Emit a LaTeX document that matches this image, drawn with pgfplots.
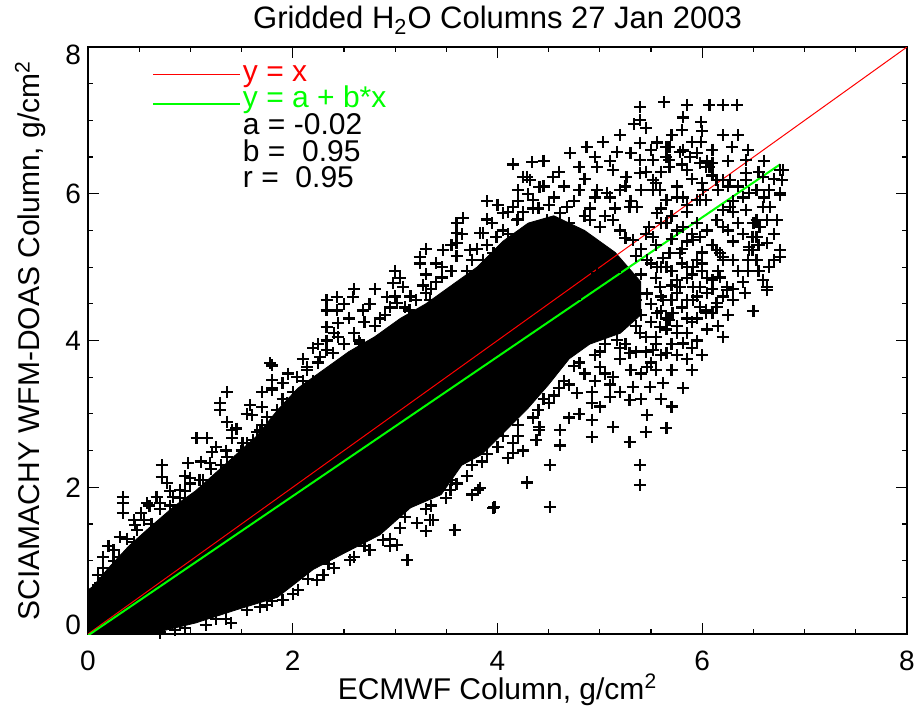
\documentclass[border=0pt]{standalone}
\usepackage{fontspec}
\setmainfont{Liberation Sans}
\usepackage{pgfplots}
\pgfplotsset{compat=1.18}
\definecolor{idlred}{RGB}{255,0,0}
\definecolor{idlgreen}{RGB}{0,255,0}

\begin{document}
\begin{tikzpicture}
\begin{axis}[
    scale only axis,
    width=409.5pt, height=293.5pt,
    xmin=0, xmax=8, ymin=0, ymax=8,
    xtick={0,2,4,6,8}, ytick={0,2,4,6,8},
    minor x tick num=3, minor y tick num=3,
    major tick length=5.5pt, minor tick length=2.5pt,
    tick style={black, line width=0.6pt},
    axis line style={line width=0.65pt},
    tick label style={font=\fontsize{14}{16}\selectfont},
    /pgf/number format/assume math mode=true,
    xticklabel style={yshift=-5pt},
    yticklabels={{\raisebox{4.5pt}[\height][\depth]{0}},2,4,6,{\raisebox{-4pt}[\height][\depth]{8}}},
]

% dense core of the cloud
\addplot[fill=black, draw=black] coordinates {
(0,0)(0.6,0)(1.05,0.15)(1.45,0.33)(1.85,0.5)(2.2,0.88)(2.5,1.1)(2.85,1.35)
(3.15,1.72)(3.45,1.9)(3.65,2.3)(3.85,2.45)(4.1,2.8)(4.3,3.08)(4.5,3.4)
(4.7,3.75)(4.9,3.95)(5.2,4.1)(5.4,4.35)(5.4,4.8)(5.15,5.2)(4.85,5.5)
(4.55,5.7)(4.3,5.6)(4.05,5.35)(3.8,5.0)(3.55,4.75)(3.3,4.5)
(3.05,4.3)(2.8,4.05)(2.55,3.85)(2.3,3.6)(2.05,3.35)(1.85,3.05)(1.65,2.7)
(1.45,2.45)(1.25,2.2)(1.05,1.95)(0.85,1.75)(0.6,1.45)(0.4,1.2)(0.2,0.9)
(0.05,0.65)(0,0.6)} --cycle;

% individual grid boxes
\addplot[only marks, mark=+, mark size=3pt, mark options={line width=1.1pt}, black] coordinates {
(6.76,6.32)(6.76,6.01)(6.59,5.82)(6.63,5.64)(6.53,5.64)(6.56,5.55)(6.73,5.64)
(6.49,5.41)(6.63,5.33)(6.76,5.23)(6.76,5.14)(6.46,5.23)(6.53,5.1)(6.59,4.82)
(6.63,4.73)(6.43,5.78)(6.46,6.01)(6.43,6.28)(6.2,6.19)(6.2,5.78)(6.2,5.55)
(6.14,5.23)(6.2,5.1)(6.17,4.86)(6.24,4.73)(6.04,4.41)(6.14,4.51)(5.85,4.1)
(5.98,4.73)(5.95,5.1)(5.91,5.37)(6.07,6.36)(6.04,5.91)(5.85,6.32)(5.98,5.91)
(5.63,7.25)(5.85,7.21)(6.07,7.21)(6.2,7.21)(6.34,7.21)(5.81,7.04)(5.99,6.98)
(5.8,6.87)(5.99,6.7)(6.29,6.64)(5.56,6.7)(5.68,6.64)(5.81,6.59)(6.43,6.46)
(5.88,6.5)(6.04,6.36)(6.14,6.19)(6.43,6.19)(6.79,6.32)(6.78,6.19)(6.76,5.98)
(6.53,6.05)(6.01,6.05)(5.81,5.95)(5.59,6.05)(5.52,6.19)(5.68,6.36)(6.27,5.82)
(6.14,5.64)(6.53,5.64)(6.76,5.23)(6.73,5.64)(6.49,5.23)(6.59,4.82)(6.63,4.69)
(6.2,5.14)(6.24,4.69)(6.14,4.46)(6.04,4.37)(5.91,4.73)(5.75,4.82)(5.62,4.55)
(5.56,5.0)(5.78,5.19)(5.98,5.41)(5.65,5.6)(5.81,5.55)(5.56,5.74)(5.91,5.0)
(5.68,4.28)
(5.39,7.18)(5.39,7.0)(5.39,6.69)(5.39,6.46)(5.03,6.7)(5.17,6.57)(4.87,6.64)
(4.71,6.55)(4.34,6.43)(5.56,6.69)(5.65,6.64)(5.78,6.57)(4.25,6.23)(4.54,6.23)
(4.41,6.09)(4.05,5.74)(4.15,5.82)(3.86,5.46)(4.8,6.36)(4.97,6.36)(5.13,6.32)
(5.26,6.23)(5.39,6.28)(5.52,6.46)(5.68,6.46)(5.98,6.42)(6.1,6.42)(6.27,6.19)
(6.59,6.23)(6.66,5.82)(6.53,5.41)(6.46,5.27)(6.17,5.19)(6.1,4.82)(5.98,4.46)
(5.78,4.73)(5.65,5.0)(5.95,5.91)(5.65,5.91)(5.52,6.05)(5.29,5.82)(5.13,5.64)
(5.07,6.01)(4.8,6.05)(4.68,5.82)(4.9,5.64)(5.32,5.37)(5.52,5.41)(5.46,5.1)
(5.68,5.19)(5.85,5.0)(5.91,4.55)(6.1,4.37)(5.59,4.73)(5.71,4.37)
(5.85,4.1)(5.81,3.96)(5.81,3.35)(5.65,2.81)(5.46,2.98)(5.29,3.19)(5.29,2.62)
(5.39,2.3)(5.39,2.03)(5.13,2.82)(5.1,3.23)(4.92,3.3)(4.92,3.15)(4.92,2.92)
(4.92,2.68)(4.78,3.28)(4.61,2.78)(4.61,2.57)(4.41,2.82)(4.38,2.64)(4.51,2.3)
(4.29,2.06)(4.51,1.73)(4.15,2.47)(3.81,1.96)(3.96,1.72)(3.58,1.42)(3.37,1.55)
(5.62,3.42)(5.49,3.37)(5.32,3.37)(5.65,3.83)(5.46,3.64)(5.52,3.87)(5.29,3.83)
(5.13,3.5)(5.0,3.64)(5.17,4.01)(5.39,4.1)(5.59,4.18)
(3.12,1.01)(3.02,1.21)(3.34,1.55)(3.54,1.96)(3.83,1.99)(3.97,1.73)(4.29,2.07)
(4.15,2.6)(4.41,2.78)(3.21,1.51)(2.88,1.28)(2.56,1.01)(2.24,0.74)(1.9,0.46)
(1.68,0.37)
(0.34,1.87)(0.34,1.78)(0.34,1.65)(0.52,1.65)(0.25,1.14)(0.46,1.49)(0.72,2.3)
(0.72,2.14)(0.77,2.06)(0.98,2.33)(1.06,2.67)(1.16,2.67)(1.29,3.15)(1.29,3.05)
(1.36,3.3)(1.36,2.89)(1.41,2.78)(1.41,2.67)(1.58,3.12)(1.6,2.98)(1.7,3.09)
(1.8,3.66)(1.8,3.46)(1.8,3.35)(1.21,2.48)(1.36,2.41)(1.19,2.33)(1.0,2.13)
(0.9,1.96)(0.67,1.87)(0.58,1.78)(0.31,1.32)(0.12,0.69)(0.05,0.6)(0.48,1.42)
(0.7,1.78)(0.83,1.87)(1.09,2.1)(1.36,2.23)(1.51,2.6)(1.61,2.64)(1.68,2.78)
(1.75,2.96)(1.94,3.15)(2.04,3.5)(2.14,3.6)(2.27,3.77)(2.39,3.83)(1.9,3.42)
(1.78,3.69)(1.8,3.32)(2.14,3.64)(2.33,4.55)(2.33,4.41)(2.43,4.59)(2.43,4.41)
(2.33,4.18)(2.33,4.0)(2.33,3.87)(2.44,4.24)(2.44,4.05)(2.59,4.59)(2.69,4.41)
(2.66,3.96)(2.53,3.73)(2.92,4.59)(2.98,4.78)(3.08,4.73)(3.27,4.75)(3.24,5.14)
(3.24,5.05)(3.02,4.51)(3.14,4.41)(3.46,5.0)(3.46,4.86)(3.6,5.46)(3.6,5.33)
(3.66,5.67)(3.83,5.46)(3.73,5.23)(3.86,5.1)(4.19,5.64)(4.29,6.23)(3.34,4.55)
(3.51,4.59)(3.8,4.92)(3.99,5.41)(4.12,5.23)(3.47,5.23)
(3.96,5.19)(4.09,5.0)(4.32,6.19)(4.35,5.91)(4.48,5.64)(4.61,5.74)(4.64,5.37)
(4.8,5.41)(4.97,5.27)(5.07,5.19)(4.41,5.27)(4.22,5.19)(4.97,4.92)(5.2,5.0)
(5.29,4.73)(5.46,4.64)(5.56,4.37)(5.13,4.46)(4.8,4.64)(4.64,4.82)(4.48,4.92)
(5.36,5.82)(5.2,6.05)(4.97,6.05)
(5.0,4.3)(5.1,4.15)(5.25,4.3)(5.4,4.35)(5.05,3.95)(4.95,3.8)(5.2,3.75)(5.3,3.6)
(4.85,3.55)(4.9,4.45)(5.05,4.6)(4.75,4.1)(5.35,4.55)(5.5,4.5)(5.6,4.6)(5.7,4.55)
(5.75,4.1)(5.9,4.25)(5.55,3.95)(5.45,4.05)(5.65,4.3)(5.5,3.7)(4.7,3.4)(4.95,3.45)
(5.1,3.4)
(3.6,2.05)(3.75,2.3)(3.9,2.45)(4.05,2.7)(4.2,2.85)(4.4,3.05)(4.55,3.25)(3.35,1.75)
(3.05,1.45)(2.75,1.15)(2.4,0.9)(2.05,0.6)(1.75,0.4)(1.35,0.2)(1.15,0.12)(0.85,0.05)
(4.5,3.15)(4.65,3.45)(4.75,3.65)
(0.15,0.9)(0.3,1.05)(0.45,1.25)(0.62,1.5)(0.8,1.75)(0.95,1.95)(1.12,2.1)(1.3,2.3)
(1.5,2.5)(1.65,2.75)(1.85,3.05)(2.0,3.3)(2.2,3.45)(2.45,3.65)(2.7,3.9)(2.95,4.1)
(3.2,4.3)(3.45,4.5)(3.7,4.75)(3.95,5.0)(4.15,5.3)(4.45,5.2)(4.65,5.05)
(5.55,4.85)(5.62,5.12)(5.7,5.38)(5.48,5.55)(5.6,5.8)(5.75,6.1)(5.45,6.3)(5.3,6.55)
(5.2,6.8)(5.33,6.95)(5.45,6.9)(5.1,6.45)(4.95,6.5)(4.85,6.2)(4.65,6.1)(4.55,5.95)
(4.75,5.9)(4.9,5.8)(5.05,5.7)(5.2,5.5)(5.4,5.25)(5.55,5.3)(5.85,5.75)(5.95,5.6)
(6.05,5.5)(6.1,5.3)(6.0,5.2)(5.85,5.35)(5.7,4.95)(5.85,4.85)(6.0,4.95)(6.05,4.65)
(5.95,4.3)(5.8,4.45)(5.75,4.65)(5.6,4.4)(5.55,4.05)(5.7,3.95)(5.95,4.0)(6.05,4.15)
(6.25,4.35)(6.3,4.55)(6.35,4.95)(6.3,5.35)(6.35,5.6)(6.3,5.9)(6.35,6.1)(6.55,6.3)
(6.65,6.05)(6.7,5.45)(6.65,5.0)(6.45,4.95)(6.42,4.65)(6.5,4.4)(6.1,6.6)(6.2,6.8)
(6.0,6.85)(5.9,6.7)(5.7,6.8)(5.5,6.6)(5.6,6.3)(5.9,6.2)(6.25,6.45)(6.15,6.05)
(6.0,6.15)(5.25,6.1)(5.1,5.95)(4.95,5.95)(4.6,6.3)(4.45,6.45)(4.3,6.0)(4.2,5.9)
(4.4,5.8)
(5.05,3.55)(5.2,3.3)(5.4,3.55)(5.55,3.6)(5.7,3.6)(5.85,3.75)(5.4,3.2)(5.0,3.1)
(4.8,3.0)(4.7,2.95)(5.45,2.75)(5.7,3.1)(5.9,3.6)(5.6,3.2)
(0.1,0.8)(0.25,1.0)(0.38,1.3)(0.55,1.55)(0.7,1.7)(0.9,1.85)(1.0,2.05)(1.2,2.25)
(1.35,2.5)(1.55,2.6)(1.7,2.85)(1.9,3.2)(2.1,3.45)(2.25,3.7)(2.5,3.95)(2.6,4.1)
(2.8,4.2)(2.9,4.35)(3.1,4.45)(3.3,4.65)(3.4,4.8)(3.55,4.95)(3.75,5.1)(3.9,5.3)
(4.05,5.5)(4.2,5.65)(2.2,3.9)(2.7,4.25)(3.0,4.6)(3.2,4.55)(3.6,5.15)(3.95,5.6)
(4.1,5.75)
(0.7,0.02)(0.95,0.08)(1.25,0.2)(1.55,0.33)(1.8,0.45)(2.0,0.55)(2.15,0.75)(2.35,0.95)
(2.6,1.05)(2.7,1.2)(2.95,1.3)(3.1,1.6)(3.3,1.7)(3.5,1.85)(3.55,2.1)(3.7,2.15)
(3.85,2.35)(4.0,2.55)(4.2,2.7)(4.35,2.95)(4.45,3.2)(4.6,3.35)(4.8,3.7)(5.0,3.85)
(5.25,3.95)(1.4,0.15)(2.3,0.8)(2.95,1.2)(3.3,1.4)(3.75,1.9)(4.1,2.4)(4.25,2.5)
(5.25,4.75)(5.4,4.9)(5.5,5.05)(5.35,5.15)(5.25,5.4)(5.45,5.45)(5.6,5.6)(5.75,5.5)
(5.7,5.7)(5.85,5.85)(5.75,5.95)(5.55,6.15)(5.4,6.05)(5.3,5.9)(5.15,5.8)(5.0,5.55)
(4.85,5.7)(4.7,5.6)(5.65,6.5)(5.8,6.4)(5.95,6.55)(6.1,6.25)(6.25,6.1)(6.4,5.95)
(6.3,5.75)(6.25,5.5)(6.4,5.45)(6.5,5.6)(6.6,5.95)(6.7,6.2)(6.6,6.45)(6.45,6.6)
(6.35,6.8)(6.05,6.45)(5.9,5.45)(5.8,5.25)(6.0,5.05)(6.15,4.95)(6.3,5.1)(6.45,5.1)
(6.55,5.3)(6.7,5.1)(6.55,4.95)(6.4,4.8)(6.3,4.7)(6.2,4.6)(6.1,4.7)(5.95,4.6)
(5.85,4.55)(5.7,4.75)(5.6,5.0)(5.8,5.05)(5.9,4.9)(6.05,4.85)(5.85,4.3)(5.75,4.2)
(5.65,4.15)(5.5,4.25)(5.35,4.2)(5.45,3.85)(5.6,3.8)(5.75,3.8)(5.9,3.9)(6.0,3.8)
(6.15,4.2)(6.2,4.05)(5.35,3.85)(5.2,3.9)
(2.1,3.75)(2.25,3.95)(2.4,4.1)(2.55,4.3)(2.65,4.0)(2.75,4.5)(2.85,4.3)(2.95,4.45)
(3.05,4.85)(3.15,4.6)(3.3,4.9)(3.35,4.7)(3.4,5.05)(3.55,5.3)(3.65,5.45)(3.7,4.95)
(3.8,5.25)(3.9,5.65)(4.0,5.85)(4.1,5.45)(4.2,6.05)(4.25,5.75)(4.35,5.8)(4.45,6.1)
(4.5,5.85)(4.15,6.4)(3.9,5.9)(3.6,5.6)(3.3,5.25)(3.0,4.95)(2.8,4.7)(2.6,4.7)
(2.5,4.5)(1.95,3.55)(1.7,3.3)(1.55,3.0)(1.45,2.8)(1.25,2.55)(1.1,2.35)(0.95,2.15)
(0.8,1.95)(0.6,1.75)(0.45,1.55)(0.2,1.2)(0.15,1.05)
};

% one-to-one line and linear fit
\addplot[idlred, line width=0.5pt] coordinates {(0,0)(8,8)};
\addplot[idlgreen, line width=1pt] coordinates {(0,-0.02)(6.76,6.40)};

% key
\addplot[idlred, line width=0.5pt] coordinates {(0.635,7.62)(1.48,7.62)};
\addplot[idlgreen, line width=1pt] coordinates {(0.635,7.23)(1.48,7.23)};
\node[anchor=base west, inner sep=0pt, text=idlred, font=\fontsize{15}{17}\selectfont] at (axis cs:1.51,7.53) {y = x};
\node[anchor=base west, inner sep=0pt, text=idlgreen, font=\fontsize{15}{17}\selectfont] at (axis cs:1.51,7.17) {y = a + b*x};
\node[anchor=base west, inner sep=0pt, font=\fontsize{15}{17}\selectfont] at (axis cs:1.51,6.81) {a = -0.02};
\node[anchor=base west, inner sep=0pt, font=\fontsize{15}{17}\selectfont] at (axis cs:1.51,6.44) {b = \ 0.95};
\node[anchor=base west, inner sep=0pt, font=\fontsize{15}{17}\selectfont] at (axis cs:1.51,6.08) {r = \ 0.95};
\end{axis}

% title and axis titles
\node[anchor=base, inner sep=0pt, font=\fontsize{15.5}{18}\selectfont] at (204.75pt,302.5pt) {Gridded H\textsubscript{2}O Columns 27 Jan 2003};
\node[anchor=base, inner sep=0pt, font=\fontsize{15}{17}\selectfont] at (204.75pt,-32.5pt) {ECMWF Column, g/cm\textsuperscript{2}};
\node[anchor=base, rotate=90, inner sep=0pt, font=\fontsize{15}{17}\selectfont] at (-24pt,146.75pt) {SCIAMACHY WFM-DOAS Column, g/cm\textsuperscript{2}};

\pgfresetboundingbox
\useasboundingbox (-44pt,-39pt) rectangle (413.5pt,317pt);
\end{tikzpicture}
\end{document}
